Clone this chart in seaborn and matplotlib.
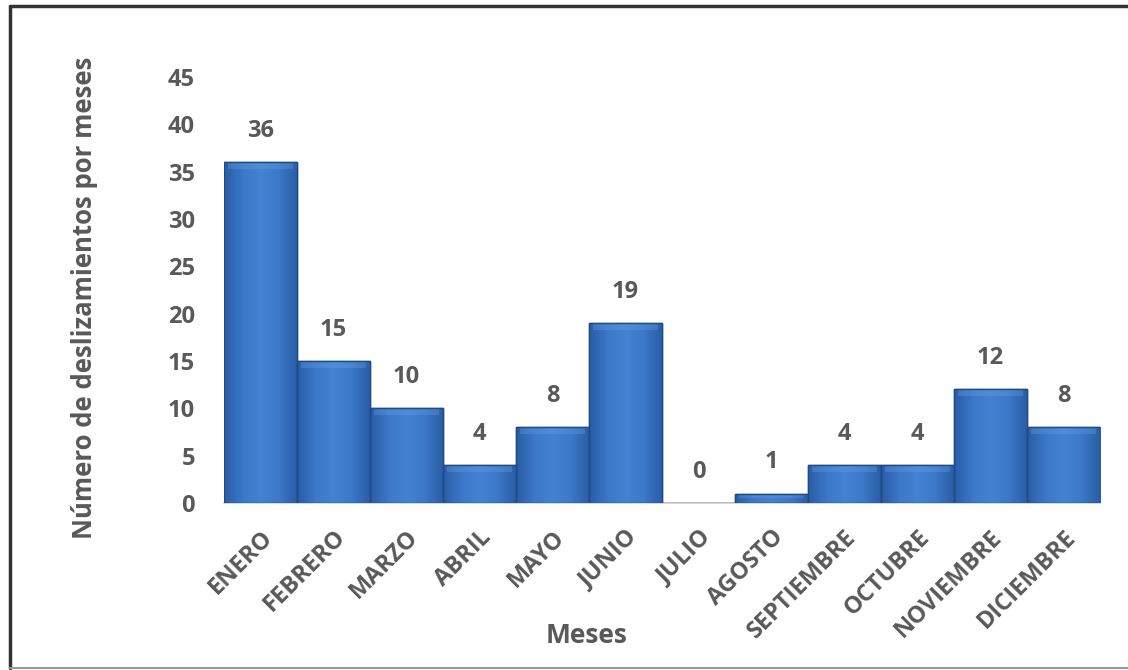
import numpy as np
import pandas as pd
import matplotlib
matplotlib.use("Agg")
import matplotlib.pyplot as plt
from matplotlib.lines import Line2D
from matplotlib.colors import LinearSegmentedColormap
import seaborn as sns

meses = ["ENERO", "FEBRERO", "MARZO", "ABRIL", "MAYO", "JUNIO", "JULIO",
         "AGOSTO", "SEPTIEMBRE", "OCTUBRE", "NOVIEMBRE", "DICIEMBRE"]
deslizamientos = [36, 15, 10, 4, 8, 19, 0, 1, 4, 4, 12, 8]
y_ticks = [0, 5, 10, 15, 20, 25, 30, 35, 40, 45]

sns.set_theme(style="white")
plt.rcParams["font.family"] = ["Open Sans", "DejaVu Sans"]
plt.rcParams["font.weight"] = "bold"
text_color = "#595959"

df = pd.DataFrame({"mes": meses, "n": deslizamientos})

fig = plt.figure(figsize=(11.28, 6.70), dpi=100)
ax = fig.add_axes([0.1986, 0.2493, 0.7766, 0.6357])

sns.barplot(data=df, x="mes", y="n", color="#3A72C2", width=1.0,
            edgecolor="#1E4A86", linewidth=1.0, ax=ax)

# shaded fill for each bar: darker sides, lighter middle, soft bevel on top
cmap = LinearSegmentedColormap.from_list(
    "bar", ["#2A5DA6", "#3B78C8", "#4483D2", "#3B78C8", "#2A5DA6"])
xs = np.linspace(0, 1, 64)
grad = np.tile(xs, (32, 1))
for patch in ax.patches:
    x0, y0 = patch.get_x(), patch.get_y()
    w, h = patch.get_width(), patch.get_height()
    if h <= 0:
        continue
    im = ax.imshow(grad, cmap=cmap, extent=[x0, x0 + w, y0, y0 + h],
                   aspect="auto", origin="lower", zorder=patch.get_zorder() + 0.1,
                   interpolation="bicubic")
    im.set_clip_path(patch)
    bevel = min(0.7, h * 0.5)
    ax.fill_between([x0 + 0.05, x0 + w - 0.05], y0 + h - bevel, y0 + h,
                    color="#6FA3E6", alpha=0.3, linewidth=0,
                    zorder=patch.get_zorder() + 0.2)
    ax.add_patch(plt.Rectangle((x0, y0), w, h, fill=False,
                               edgecolor="#1E4A86", linewidth=1.0,
                               zorder=patch.get_zorder() + 0.3))

ax.set_xlim(-0.5, len(meses) - 0.5)
ax.set_ylim(0, 45)
ax.set_yticks(y_ticks)
ax.set_yticklabels([str(t) for t in y_ticks], fontsize=17, color=text_color,
                   fontweight="bold")
ax.tick_params(axis="y", length=0, pad=21)
ax.tick_params(axis="x", length=0, pad=16)
ax.set_xticks(range(len(meses)))
ax.set_xticklabels(meses, rotation=45, ha="right", rotation_mode="anchor",
                   fontsize=17, color=text_color, fontweight="bold")

ax.bar_label(ax.containers[0], labels=[str(v) for v in deslizamientos],
             padding=14, fontsize=17, color=text_color, fontweight="bold")

for side in ["top", "right", "left"]:
    ax.spines[side].set_visible(False)
ax.spines["bottom"].set_color("#D0D0D0")
ax.spines["bottom"].set_linewidth(1.2)
ax.spines["bottom"].set_zorder(0.5)

ax.set_ylabel("Número de deslizamientos por meses", fontsize=18.5,
              color=text_color, fontweight="bold")
ax.yaxis.set_label_coords(-0.144, 0.482)
ax.set_xlabel("Meses", fontsize=19, color=text_color, fontweight="bold")
ax.xaxis.set_label_coords(0.414, -0.28)

# outer frame of the chart area
fig.add_artist(Line2D([10 / 1128, 1], [1 - 6 / 670, 1 - 6 / 670],
                      transform=fig.transFigure, color="#333333", linewidth=2.5))
fig.add_artist(Line2D([10 / 1128, 10 / 1128], [1 - 6 / 670, 2 / 670],
                      transform=fig.transFigure, color="#333333", linewidth=2.5))
fig.add_artist(Line2D([10 / 1128, 1], [2 / 670, 2 / 670],
                      transform=fig.transFigure, color="#9A9A9A", linewidth=1.5))

fig.savefig("out.png", dpi=100, facecolor="white")
